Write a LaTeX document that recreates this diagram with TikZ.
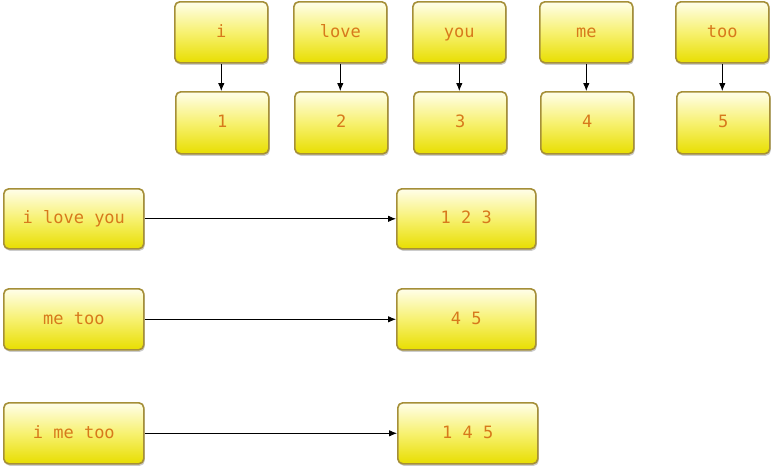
\documentclass[tikz,border=0pt]{standalone}
\usepackage{fontspec}
\setmonofont{DejaVu Sans Mono}
\usetikzlibrary{shadows,arrows.meta}
\definecolor{boxline}{HTML}{A58F38}
\definecolor{boxtop}{HTML}{FFFEEA}
\definecolor{boxmid}{HTML}{F7F170}
\definecolor{boxbot}{HTML}{E8DE00}
\definecolor{txt}{HTML}{D7791C}
\tikzset{
  ybox/.style={draw=boxline, line width=1.6pt, rounded corners=5pt,
    top color=boxtop, bottom color=boxbot, middle color=boxmid,
    drop shadow={shadow xshift=1pt, shadow yshift=-2pt, fill=black!40, opacity=0.5},
    font=\ttfamily\fontsize{17}{19}\selectfont, text=txt,
    text height=12pt, text depth=2pt,
    inner sep=0pt, anchor=north west},
  conn/.style={-{Latex[length=8pt,width=6.5pt]}, line width=0.8pt, black}
}
\begin{document}
\begin{tikzpicture}[x=1pt,y=-1pt]
\useasboundingbox (0,0) rectangle (773,469);
% top row
\node[ybox, minimum width=93pt, minimum height=61pt] (w1) at (174,1) {i};
\node[ybox, minimum width=93pt, minimum height=61pt] (w2) at (293,1) {love};
\node[ybox, minimum width=93pt, minimum height=61pt] (w3) at (412,1) {you};
\node[ybox, minimum width=93pt, minimum height=61pt] (w4) at (539,1) {me};
\node[ybox, minimum width=93pt, minimum height=61pt] (w5) at (675,1) {too};
% second row
\node[ybox, minimum width=93pt, minimum height=62pt] (n1) at (175,91) {1};
\node[ybox, minimum width=93pt, minimum height=62pt] (n2) at (294,91) {2};
\node[ybox, minimum width=93pt, minimum height=62pt] (n3) at (413,91) {3};
\node[ybox, minimum width=93pt, minimum height=62pt] (n4) at (540,91) {4};
\node[ybox, minimum width=93pt, minimum height=62pt] (n5) at (676,91) {5};
\draw[conn] (w1.south) -- (w1.south |- n1.north);
\draw[conn] (w2.south) -- (w2.south |- n2.north);
\draw[conn] (w3.south) -- (w3.south |- n3.north);
\draw[conn] (w4.south) -- (w4.south |- n4.north);
\draw[conn] (w5.south) -- (w5.south |- n5.north);
% sentences
\node[ybox, minimum width=140pt, minimum height=60pt] (s1) at (3,188) {i love you};
\node[ybox, minimum width=140pt, minimum height=61pt] (s2) at (3,288) {me too};
\node[ybox, minimum width=140pt, minimum height=61pt] (s3) at (3,402) {i me too};
\node[ybox, minimum width=139pt, minimum height=60pt] (v1) at (396,188) {1 2 3};
\node[ybox, minimum width=139pt, minimum height=61pt] (v2) at (396,288) {4 5};
\node[ybox, minimum width=140pt, minimum height=61pt] (v3) at (397,402) {1 4 5};
\draw[conn] (s1.east) -- (v1.west);
\draw[conn] (s2.east) -- (v2.west);
\draw[conn] (s3.east) -- (v3.west);
\end{tikzpicture}
\end{document}
